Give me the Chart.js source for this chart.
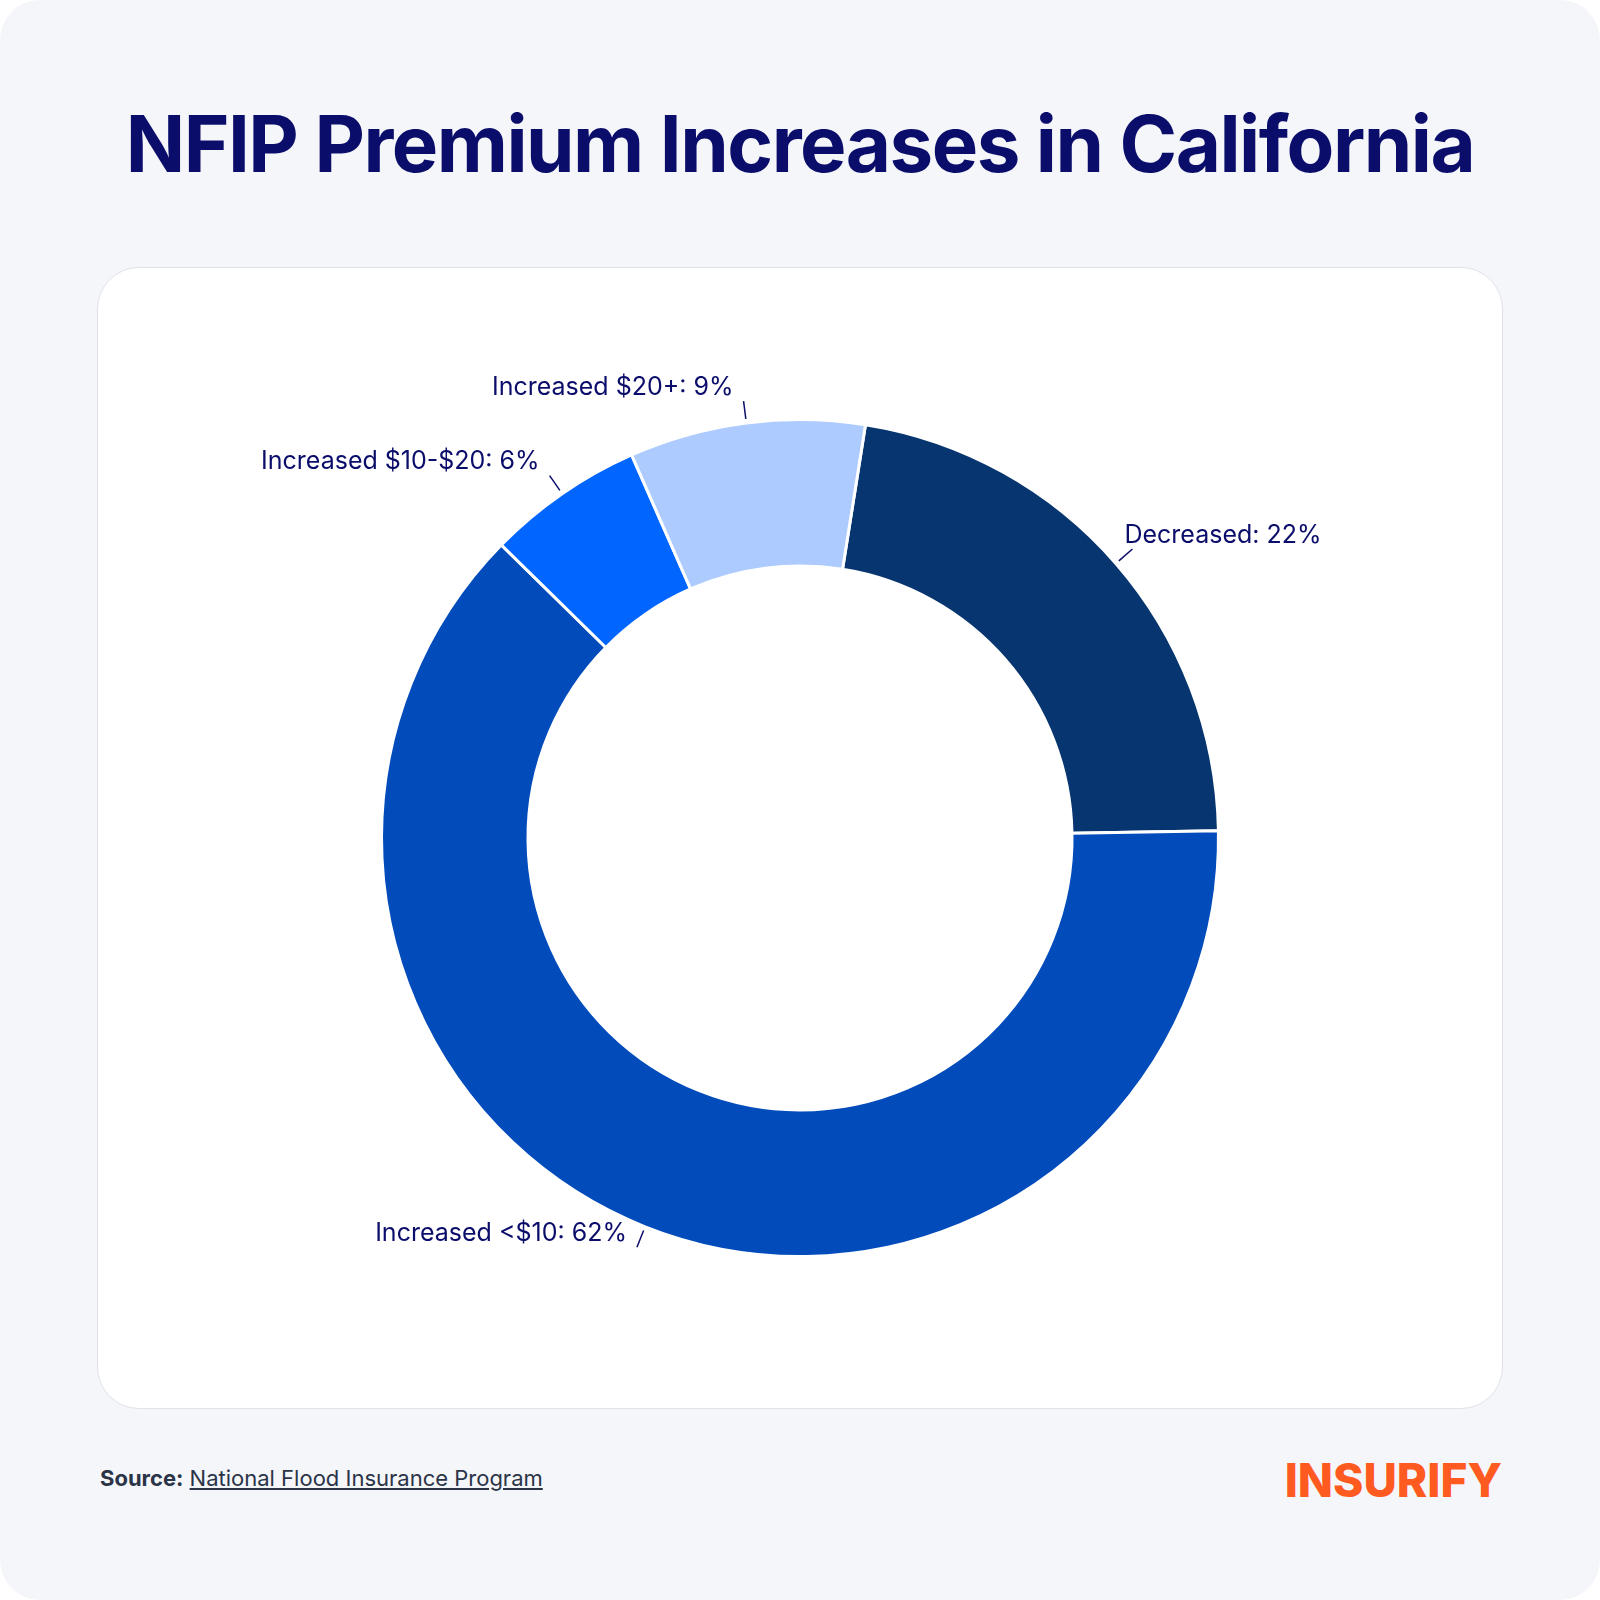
<!DOCTYPE html>
<html><head><meta charset="utf-8">
<script src="https://cdn.jsdelivr.net/npm/chart.js@4"></script>
<style>
html,body{margin:0;padding:0;background:#fff;}
#page{position:relative;width:1600px;height:1600px;background:#f5f6fa;border-radius:40px;font-family:Inter,"Noto Sans",sans-serif;}
h1{position:absolute;top:96px;left:0;width:1600px;text-align:center;margin:0;font-size:78px;font-weight:700;color:#0b0d6b;letter-spacing:-1.5px;}
#card{position:absolute;left:97px;top:267px;width:1404px;height:1140px;background:#fff;border:1px solid #dfe2ea;border-radius:42px;}
#card canvas{position:absolute;left:0;top:0;}
#src{position:absolute;left:100px;top:1465px;font-size:22px;color:#2b3447;}
#src a{color:#2b3447;text-decoration:underline;}
#logo{position:absolute;right:98px;top:1452px;font-size:46px;font-weight:800;color:#ff5a1f;letter-spacing:0px;}
</style></head><body>
<div id="page">
<h1>NFIP Premium Increases in California</h1>
<div id="card"><canvas id="c" width="1404" height="1140"></canvas></div>
<div id="src"><b>Source:</b> <a>National Flood Insurance Program</a></div>
<div id="logo">INSURIFY</div>
</div>
<script>
// ── Data ─────────────────────────────────────────────
const CATEGORIES = ['Decreased', 'Increased <$10', 'Increased $10-$20', 'Increased $20+'];
const SHARES     = [22, 62, 6, 9];
const COLORS     = ['#07356f', '#024bbb', '#0066ff', '#adcbff'];

// leader label plugin: short tick from slice edge, then the text
const leaderLabels = {
  id: 'leaderLabels',
  afterDatasetsDraw(chart) {
    const ctx = chart.ctx;
    const arcs = chart.getDatasetMeta(0).data;
    ctx.save();
    ctx.font = '25px Inter, "Noto Sans", sans-serif';
    ctx.fillStyle = '#0b0d6b';
    ctx.strokeStyle = '#0b0d6b';
    ctx.lineWidth = 1.5;
    arcs.forEach((arc, i) => {
      const p = arc.getProps(['x','y','startAngle','endAngle','outerRadius'], true);
      const a = (p.startAngle + p.endAngle) / 2;
      const r0 = p.outerRadius + 4, r1 = p.outerRadius + 22;
      const x0 = p.x + Math.cos(a) * r0, y0 = p.y + Math.sin(a) * r0;
      const x1 = p.x + Math.cos(a) * r1, y1 = p.y + Math.sin(a) * r1;
      const right = Math.cos(a) >= 0;
      ctx.beginPath();
      ctx.moveTo(x0, y0); ctx.lineTo(x1, y1);
      ctx.stroke();
      const text = CATEGORIES[i] + ': ' + SHARES[i] + '%';
      ctx.textAlign = right ? 'left' : 'right';
      ctx.textBaseline = 'middle';
      ctx.fillText(text, x1 + (right ? -8 : -10), y1 - 14);
    });
    ctx.restore();
  }
};

new Chart(document.getElementById('c'), {
  type: 'doughnut',
  data: {
    labels: CATEGORIES,
    datasets: [{ data: SHARES, backgroundColor: COLORS, borderColor: '#fff', borderWidth: 3 }]
  },
  options: {
    responsive: false,
    animation: false,
    rotation: 9,
    cutout: '65%',
    layout: { padding: 150 },
    plugins: { legend: { display: false }, tooltip: { enabled: false } }
  },
  plugins: [leaderLabels]
});
</script>
</body></html>
